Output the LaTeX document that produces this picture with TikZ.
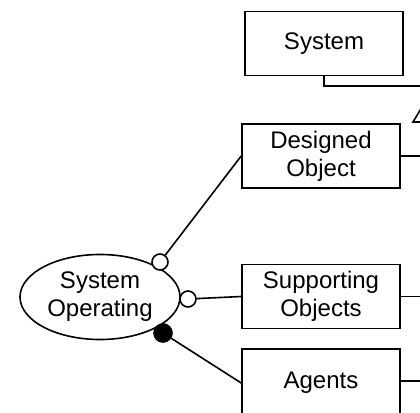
\documentclass[tikz,border=0pt]{standalone}
\usepackage{fontspec}
\setmainfont{Liberation Sans}
\usetikzlibrary{positioning, shapes.geometric}
\tikzset{
  thing/.style={rectangle,draw,align=center,minimum width=158pt,minimum height=64pt,inner sep=2pt},
  process/.style={ellipse,draw,align=center,minimum width=160pt,minimum height=85pt,inner sep=0pt},
  hollow/.style={circle,draw,fill=white,minimum size=16pt,inner sep=0pt},
  filled/.style={circle,draw,fill=black,minimum size=18pt,inner sep=0pt},
  link/.style={line width=1.6pt}
}

\begin{document}
\begin{tikzpicture}[x=1pt,y=-1pt,line width=1.6pt,font=\fontsize{24}{28}\selectfont]
\useasboundingbox (0,0) rectangle (420,412);
\clip (0,0) rectangle (420,412);
\node[thing] (sys) at (324,43.5) {System};
\node[thing] (des) at (321,156) {Designed\\Object};
\node[thing] (sup) at (321,296.5) {Supporting\\Objects};
\node[thing, minimum height=68pt] (agt) at (321,383) {Agents};
\node[process] (op) at (100,297) {System\\Operating};
% links from the process
\node[hollow] (c1) at (160,262) {};
\node[hollow] (c2) at (188,299) {};
\node[filled] (c3) at (163,333) {};
\draw[link] (c1) -- (des.west);
\draw[link] (c2) -- (sup.west);
\draw[link] (c3) -- (agt.west);
% aggregation to the right
\coordinate (e0) at (420,86);
\draw[link] (sys.south) |- (e0);
\draw[link] (413,122) -- (425,102) -- (437,122) -- cycle;
\coordinate (e1) at (420,156);
\coordinate (e2) at (420,296.5);
\coordinate (e3) at (420,381);
\draw[link] (des.east) -- (e1);
\draw[link] (sup.east) -- (e2);
\draw[link] (agt.east |- e3) -- (e3);
\end{tikzpicture}
\end{document}
